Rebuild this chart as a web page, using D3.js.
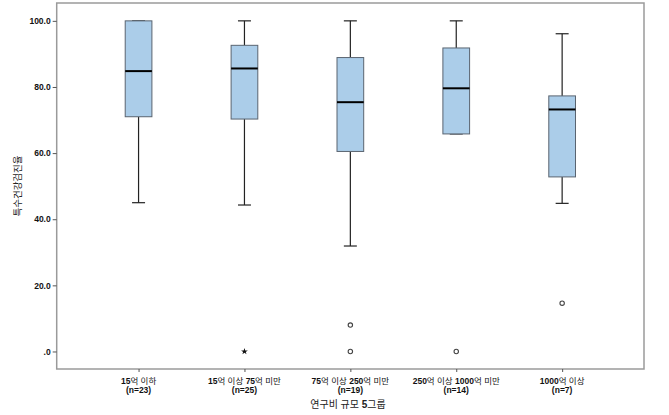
<!DOCTYPE html>
<html><head><meta charset="utf-8">
<script src="https://cdn.jsdelivr.net/npm/d3@7"></script>
<style>body{margin:0;background:#fff;} text{font-family:Arial,"Liberation Sans","Noto Sans CJK KR",sans-serif;}</style>
</head><body><svg id="c" width="669" height="415"></svg>
<script>
const categories = ["15억 이하", "15억 이상 75억 미만", "75억 이상 250억 미만", "250억 이상 1000억 미만", "1000억 이상"];
const nLabels = ["(n=23)", "(n=25)", "(n=19)", "(n=14)", "(n=7)"];
const whiskerLow = [45.0, 44.3, 31.9, 65.8, 44.8];
const q1 = [71.0, 70.3, 60.5, 65.8, 52.8];
const median = [84.8, 85.6, 75.4, 79.6, 73.2];
const q3 = [100, 92.6, 88.9, 91.8, 77.3];
const whiskerHigh = [100, 100, 100, 100, 96.1];
const outliers = [[], [], [8.0, 0], [0], [14.6]];
const extremes = [[], [0], [], [], []];
const yTicks = [0, 20, 40, 60, 80, 100];
const yTitle = "특수건강검진율";
const xTitle = "연구비 규모 5그룹";

const svg = d3.select("#c");
const L = 56.7, R = 644, T = 3, B = 369;
const x = d3.scalePoint().domain(categories).range([L, R]).padding(0.773);
const y = d3.scaleLinear().domain([-5.3, 105.4]).range([B, T]);
const bw = 26.7, cw = 13;

// frame
svg.append("rect").attr("x", L).attr("y", T).attr("width", R - L).attr("height", B - T)
  .attr("fill", "#fff").attr("stroke", "#9a9a9a").attr("stroke-width", 1.5);

// bold digits / normal hangul helper
function richText(sel, str) {
  const parts = str.match(/[0-9().=n]+|[^0-9().=n]+/g) || [];
  parts.forEach(p => {
    sel.append("tspan").text(p).attr("font-weight", /[0-9]/.test(p) || /^[().=n]+$/.test(p) ? "bold" : "normal");
  });
}

// y axis
const ya = svg.append("g").attr("transform", `translate(${L},0)`)
  .call(d3.axisLeft(y).tickValues(yTicks).tickSize(4).tickPadding(2)
    .tickFormat(d => d === 0 ? ".0" : d.toFixed(1)));
ya.select(".domain").remove();
ya.selectAll("line").attr("stroke", "#555");
ya.selectAll("text").attr("font-size", 8.5).attr("font-weight", "bold").attr("fill", "#111")
  .attr("font-family", "Arial, 'Liberation Sans', sans-serif");

// x axis
const xa = svg.append("g").attr("transform", `translate(0,${B})`)
  .call(d3.axisBottom(x).tickSize(3).tickFormat(""));
xa.select(".domain").remove();
xa.selectAll("line").attr("stroke", "#555");
categories.forEach((c, i) => {
  const t = svg.append("text").attr("x", x(c)).attr("y", 384).attr("text-anchor", "middle")
    .attr("font-size", 8.5).attr("fill", "#111");
  richText(t, c);
  svg.append("text").attr("x", x(c)).attr("y", 393).attr("text-anchor", "middle")
    .attr("font-size", 8.5).attr("font-weight", "bold").attr("fill", "#111").text(nLabels[i]);
});

// titles
const xt = svg.append("text").attr("x", 348).attr("y", 408).attr("text-anchor", "middle")
  .attr("font-size", 10).attr("fill", "#222");
richText(xt, xTitle);
svg.append("text").attr("transform", "translate(21,186) rotate(-90)").attr("text-anchor", "middle")
  .attr("font-size", 9.5).attr("fill", "#222").text(yTitle);

// boxes
categories.forEach((c, i) => {
  const cx = x(c);
  const g = svg.append("g");
  g.append("line").attr("x1", cx).attr("x2", cx).attr("y1", y(whiskerHigh[i])).attr("y2", y(q3[i]))
    .attr("stroke", "#222").attr("stroke-width", 1.2);
  g.append("line").attr("x1", cx).attr("x2", cx).attr("y1", y(q1[i])).attr("y2", y(whiskerLow[i]))
    .attr("stroke", "#222").attr("stroke-width", 1.2);
  [whiskerHigh[i], whiskerLow[i]].forEach(v => {
    g.append("line").attr("x1", cx - cw / 2).attr("x2", cx + cw / 2).attr("y1", y(v)).attr("y2", y(v))
      .attr("stroke", "#222").attr("stroke-width", 1.2);
  });
  g.append("rect").attr("x", cx - bw / 2).attr("y", y(q3[i])).attr("width", bw)
    .attr("height", y(q1[i]) - y(q3[i])).attr("fill", "#abcde9").attr("stroke", "#5a6470").attr("stroke-width", 1);
  g.append("line").attr("x1", cx - bw / 2).attr("x2", cx + bw / 2).attr("y1", y(median[i])).attr("y2", y(median[i]))
    .attr("stroke", "#000").attr("stroke-width", 2);
  outliers[i].forEach(v => {
    g.append("circle").attr("cx", cx).attr("cy", y(v)).attr("r", 2.2)
      .attr("fill", "#fff").attr("stroke", "#444").attr("stroke-width", 1.1);
  });
  extremes[i].forEach(v => {
    g.append("path").attr("d", d3.symbol(d3.symbolStar, 14)())
      .attr("transform", `translate(${cx},${y(v)})`).attr("fill", "#111");
  });
});
</script></body></html>
